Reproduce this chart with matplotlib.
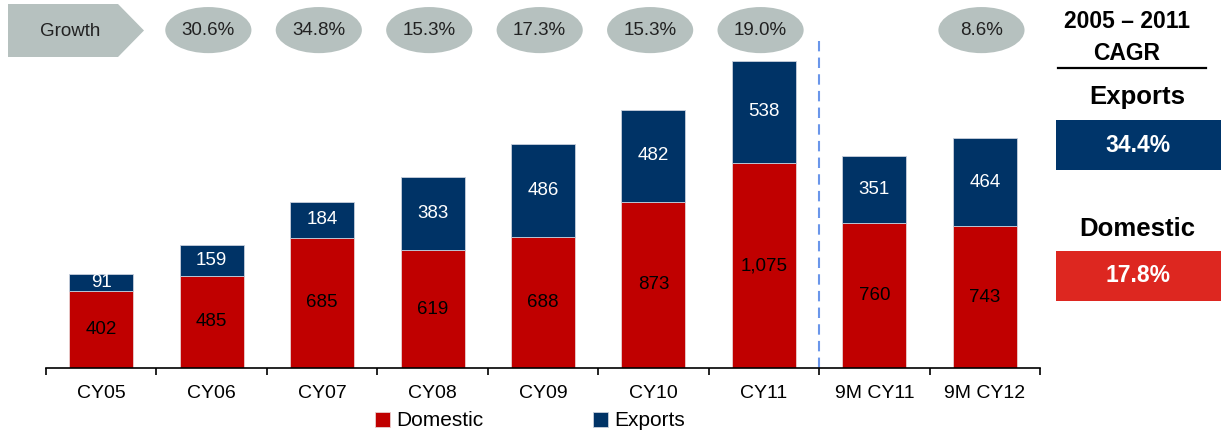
import matplotlib
matplotlib.use("Agg")
import matplotlib.pyplot as plt
from matplotlib.patches import Ellipse, Polygon, Rectangle
from matplotlib.lines import Line2D

plt.rcParams['font.family'] = ['Liberation Sans', 'DejaVu Sans']

# data
categories = ['CY05', 'CY06', 'CY07', 'CY08', 'CY09', 'CY10', 'CY11', '9M CY11', '9M CY12']
domestic = [402, 485, 685, 619, 688, 873, 1075, 760, 743]
exports = [91, 159, 184, 383, 486, 482, 538, 351, 464]
growth = [None, '30.6%', '34.8%', '15.3%', '17.3%', '15.3%', '19.0%', None, '8.6%']
cagr_exports = '34.4%'
cagr_domestic = '17.8%'

RED = '#c00000'
NAVY = '#003366'
GREY = '#b6c1bf'

W, H = 1226, 441
fig = plt.figure(figsize=(W / 100, H / 100), dpi=100)

def fx(px):
    return px / W

def fy(py):
    return 1 - py / H

ax = fig.add_axes([fx(46), fy(368), 994 / W, 368 / H])
x = list(range(len(categories)))

ax.bar(x, domestic, width=0.58, color=RED, edgecolor='#e8d0d0', linewidth=0.6, label='Domestic')
ax.bar(x, exports, width=0.58, bottom=domestic, color=NAVY, edgecolor='#c8d0dc',
       linewidth=0.6, label='Exports')

for i in x:
    ax.text(i, domestic[i] / 2, f'{domestic[i]:,}', ha='center', va='center',
            fontsize=13.5, color='black')
    ax.text(i, domestic[i] + exports[i] / 2, f'{exports[i]:,}', ha='center', va='center',
            fontsize=13.5, color='white')

ax.set_xlim(-0.5, len(categories) - 0.5)
ax.set_ylim(0, 1932)

# growth ellipses
for i, g in enumerate(growth):
    if g is None:
        continue
    ax.add_patch(Ellipse((i - 0.03, 1774), 0.78, 242, facecolor=GREY, edgecolor='none',
                         clip_on=False))
    ax.text(i - 0.03, 1774, g, ha='center', va='center', fontsize=13.5, color='#222222')

# divider between full years and 9M
ax.axvline(6.5, ymin=0, ymax=1717 / 1932, color='#6a96ea', linestyle=(0, (5, 3)),
           linewidth=1.5)

for s in ['top', 'right', 'left']:
    ax.spines[s].set_visible(False)
ax.spines['bottom'].set_linewidth(1.2)
ax.set_yticks([])
ax.set_xticks(x)
ax.set_xticklabels(categories, fontsize=14)
ax.tick_params(axis='x', which='major', length=0, pad=12)
ax.set_xticks([i - 0.5 for i in range(len(categories) + 1)], minor=True)
ax.tick_params(axis='x', which='minor', length=5, width=1.2, direction='out')

# growth arrow tag
arrow = Polygon([(fx(8), fy(4)), (fx(118), fy(4)), (fx(144), fy(30.5)),
                 (fx(118), fy(57)), (fx(8), fy(57))],
                closed=True, transform=fig.transFigure, facecolor=GREY, edgecolor='none')
fig.patches.append(arrow)
fig.text(fx(70), fy(31), 'Growth', ha='center', va='center', fontsize=13.5, color='#222222')

# right CAGR panel
fig.text(fx(1127), fy(22), '2005 – 2011', ha='center', va='center', fontsize=16.5,
         fontweight='bold')
fig.text(fx(1127), fy(53), 'CAGR', ha='center', va='center', fontsize=16.5, fontweight='bold')
fig.lines.append(Line2D([fx(1058), fx(1206)], [fy(68), fy(68)], transform=fig.transFigure,
                        color='black', linewidth=1.6))
fig.text(fx(1137), fy(97), 'Exports', ha='center', va='center', fontsize=18.5,
         fontweight='bold')
fig.patches.append(Rectangle((fx(1056), fy(170)), 165 / W, 50 / H, transform=fig.transFigure,
                             facecolor='#00356a', edgecolor='none'))
fig.text(fx(1138), fy(145), cagr_exports, ha='center', va='center', fontsize=16.5,
         fontweight='bold', color='white')
fig.text(fx(1137), fy(229), 'Domestic', ha='center', va='center', fontsize=18.5,
         fontweight='bold')
fig.patches.append(Rectangle((fx(1056), fy(301)), 165 / W, 50 / H, transform=fig.transFigure,
                             facecolor='#dd2720', edgecolor='none'))
fig.text(fx(1138), fy(276), cagr_domestic, ha='center', va='center', fontsize=16.5,
         fontweight='bold', color='white')

# legend
handles, labels = ax.get_legend_handles_labels()
fig.legend(handles, labels, loc='center', bbox_to_anchor=(fx(530), fy(421)), ncol=2,
           frameon=False, fontsize=15, handlelength=0.7, handleheight=0.7,
           handletextpad=0.3, columnspacing=5.3)

fig.savefig('out.png', dpi=100)
